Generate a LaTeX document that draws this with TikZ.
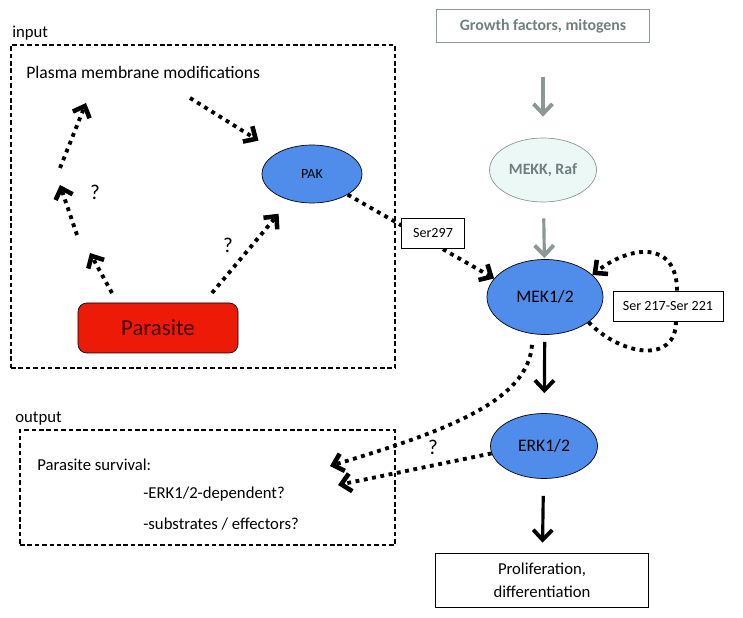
\documentclass[tikz,border=0pt]{standalone}
\usepackage{fontspec}
\setmainfont{Carlito}
\usepackage{tikz}
\usetikzlibrary{
    positioning,
    arrows.meta,
    shapes.geometric,
    calc,
}
\definecolor{kinaseblue}{RGB}{80,141,235}
\definecolor{parasitered}{RGB}{236,26,6}
\definecolor{upgray}{RGB}{112,126,126}
\definecolor{upline}{RGB}{140,152,152}
\definecolor{mekkfill}{RGB}{236,248,245}
\tikzset{
    % Node styles
    kinase/.style={ellipse, draw, fill=kinaseblue, inner sep=0pt},
    site box/.style={rectangle, draw, fill=white, inner sep=0pt,
                     font=\fontsize{8}{9}\selectfont},
    region box/.style={rectangle, draw, line width=0.6pt,
                       dash pattern=on 2.6pt off 1.6pt},
    plain text/.style={anchor=west, inner sep=0pt, font=\fontsize{9.5}{11}\selectfont},
    query/.style={font=\fontsize{12}{14}\selectfont},
    % Arrow styles
    dot arrow/.style={line width=2.2pt, dash pattern=on 2.2pt off 2.6pt,
                      -{Straight Barb[length=1.9mm, width=3.6mm, line width=2.6pt]}},
    solid arrow/.style={line width=1.8pt,
                        -{Straight Barb[length=2mm, width=3.8mm, line width=2.2pt]}},
    gray arrow/.style={solid arrow, upline},
}

\begin{document}
\begin{tikzpicture}[
    big box/.style={rectangle, draw, minimum width=4.26cm, align=center},
]
    \useasboundingbox (0,0) rectangle (14.86,-12.36);

    % Input
    \node[plain text] (inlabel) at (0.24,-0.66) {input};
    \node[region box, minimum width=7.68cm, minimum height=6.46cm] (inbox) at (4.06,-4.13) {};
    \node[plain text, font=\fontsize{10}{12}\selectfont] (plasma) at (0.52,-1.44) {Plasma membrane modifications};
    \node[kinase, minimum width=2cm, minimum height=1.16cm, font=\fontsize{8}{9}\selectfont] (pak) at (6.24,-3.48) {PAK};
    \node[rectangle, draw, rounded corners=5pt, fill=parasitered, minimum width=3.2cm, minimum height=1cm,
          font=\fontsize{13}{15}\selectfont, text=black!75!red] (parasite) at (3.16,-6.56) {Parasite};

    \coordinate (up1s) at (2.24,-5.86);
    \coordinate (up1e) at (1.80,-5.06);
    \coordinate (up2s) at (1.54,-4.70);
    \coordinate (up2e) at (1.20,-3.70);
    \coordinate (up3s) at (1.20,-3.36);
    \coordinate (up3e) at (1.72,-2.06);
    \coordinate (parout) at (4.24,-5.86);
    \coordinate (plasout) at (3.80,-1.96);

    \draw[dot arrow] (up1s) -- (up1e);
    \draw[dot arrow] (up2s) -- (up2e);
    \draw[dot arrow] (up3s) -- (up3e);
    \draw[dot arrow, shorten >=0.35cm] (parout) -- (pak);
    \draw[dot arrow, shorten >=0.45cm] (plasout) -- (pak);
    \node[query] (q1) at (1.90,-3.84) {?};
    \node[query] (q2) at (4.56,-4.90) {?};

    % MAPK cascade
    \node[big box, draw=upline, minimum height=0.66cm, text=upgray,
          font=\bfseries\fontsize{9}{11}\selectfont] (growth) at (10.86,-0.52) {Growth factors, mitogens};
    \node[ellipse, draw=upline, fill=mekkfill, inner sep=0pt, minimum width=2.14cm, minimum height=1.28cm,
          text=upgray, font=\bfseries\fontsize{9}{11}\selectfont] (mekk) at (10.86,-3.40) {MEKK, Raf};
    \node[kinase, minimum width=2.32cm, minimum height=1.5cm, font=\fontsize{10}{12}\selectfont] (mek) at (10.90,-5.94) {MEK1/2};
    \node[kinase, minimum width=2.14cm, minimum height=1.3cm, font=\fontsize{10}{12}\selectfont] (erk) at (10.88,-8.92) {ERK1/2};
    \node[big box, minimum height=1.08cm, font=\fontsize{9.5}{13}\selectfont] (prolif) at (10.84,-11.60) {Proliferation,\\differentiation};

    \draw[gray arrow, shorten <=0.68cm, shorten >=0.42cm] (growth) -- (mekk);
    \draw[gray arrow, shorten <=0.32cm, shorten >=0.02cm] (mekk) -- (mek);
    \draw[solid arrow, shorten <=0.14cm, shorten >=0.40cm] (mek) -- (erk);
    \draw[solid arrow, shorten <=0.34cm, shorten >=0.20cm] (erk) -- (prolif);

    \draw[dot arrow] (pak.-30) -- (mek.160);
    \node[site box, minimum width=1.26cm, minimum height=0.6cm] (ser297) at (8.66,-4.66) {Ser297};

    \node[site box, minimum width=2.2cm, minimum height=0.6cm] (ser217) at (13.36,-6.12) {Ser 217-Ser 221};
    \draw[line width=2.2pt, dash pattern=on 2.2pt off 2.6pt]
        (mek.-30) .. controls (12.4,-7.1) and (13.52,-7.3) .. ([xshift=0.16cm]ser217.south);
    \draw[dot arrow]
        ([xshift=0.18cm]ser217.north) .. controls (13.54,-4.8) and (12.6,-4.9) .. (mek.25);

    % Output
    \node[plain text] (outlabel) at (0.30,-8.38) {output};
    \node[region box, minimum width=7.5cm, minimum height=2.3cm] (outbox) at (4.15,-9.75) {};
    \node[plain text] (survival) at (0.74,-9.30) {Parasite survival:};
    \node[plain text] (erkdep) at (2.86,-9.88) {-ERK1/2-dependent?};
    \node[plain text] (effect) at (2.86,-10.48) {-substrates / effectors?};

    \coordinate (surva) at (6.60,-9.32);
    \coordinate (survb) at (6.76,-9.70);
    \draw[dot arrow] ([xshift=-0.26cm, yshift=-0.2cm]mek.south) .. controls (10.56,-8.0) and (9.0,-8.6) .. (surva);
    \draw[dot arrow] (erk.188) -- (survb);
    \node[query] (q3) at (8.66,-8.94) {?};
\end{tikzpicture}
\end{document}
